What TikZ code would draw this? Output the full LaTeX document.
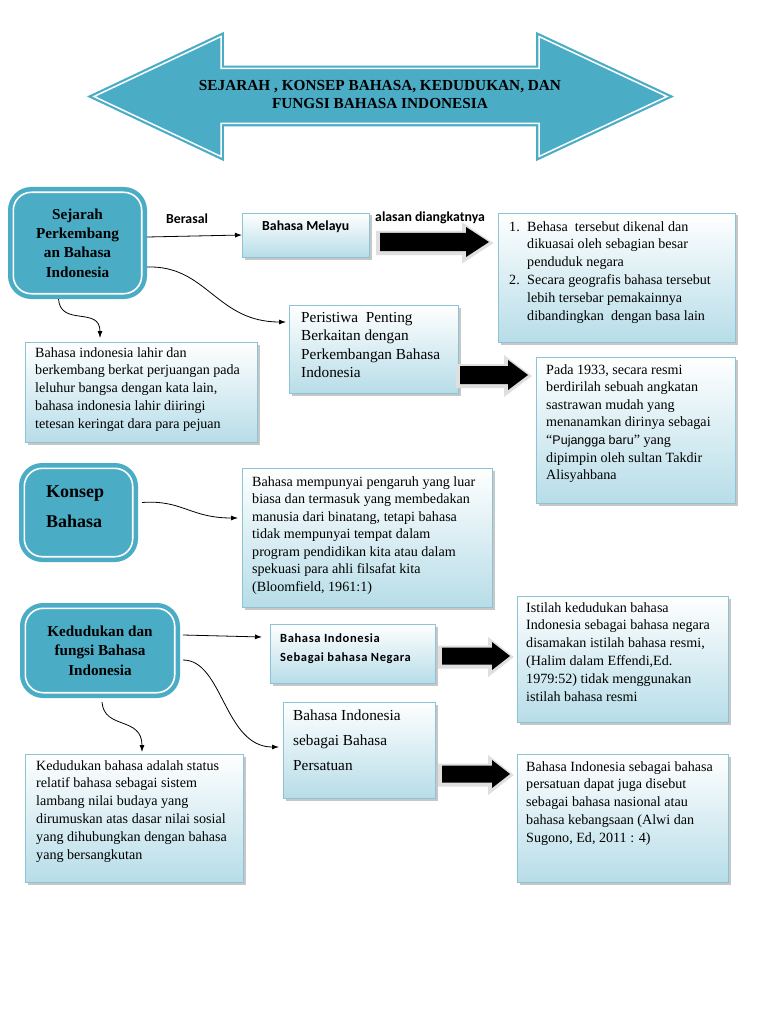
\documentclass[tikz,border=0pt]{standalone}
\usepackage{fontspec}
\setmainfont{Liberation Serif}
\newfontfamily\calfont{Carlito}
\newfontfamily\calsp{Carlito}[LetterSpace=5]
\newfontfamily\lsans{Liberation Sans}
\usetikzlibrary{calc,shadows,arrows.meta}
\definecolor{tealA}{RGB}{75,172,198}
\definecolor{lbBot}{RGB}{183,221,232}
\definecolor{lbEdge}{RGB}{140,196,214}
\tikzset{
  mainbox/.style={rounded corners=18pt, fill=tealA, draw=tealA, double=white,
    double distance=1.6pt, line width=4.5pt, outer sep=5.3pt, inner sep=0pt,
    align=center, font=\bfseries\fontsize{15.2}{19.4}\selectfont},
  lightbox/.style={draw=lbEdge, line width=0.8pt, top color=white, bottom color=lbBot,
    anchor=north west, inner sep=0pt, outer sep=0pt,
    drop shadow={shadow xshift=2.5pt, shadow yshift=-2.5pt, fill=gray!80, opacity=0.55}},
  bodytxt/.style={anchor=base west, align=left, inner sep=0pt,
    font=\fontsize{14.1}{17.8}\selectfont},
  bigtxt/.style={anchor=base west, align=left, inner sep=0pt,
    font=\fontsize{15.3}{18.5}\selectfont},
  caltxt/.style={anchor=base west, align=left, inner sep=0pt,
    font=\calfont\bfseries\fontsize{13.8}{16}\selectfont},
  conn/.style={-{Latex[length=7pt,width=5pt]}, line width=0.8pt},
}
\newcommand{\lbox}[5]{\node[lightbox, minimum width={#4-#2}, minimum height={#5-#3}] (#1) at (#2,#3) {};}
\newcommand{\blkarrow}[6]{%
  \draw[gray!25, fill=gray!25, line width=6pt, line join=miter, shift={(-1,1)}]
    (#1,{#4-#5}) -- (#2,{#4-#5}) -- (#2,{#4-#6}) -- (#3,#4) -- (#2,{#4+#6}) -- (#2,{#4+#5}) -- (#1,{#4+#5}) -- cycle;
  \fill[black]
    (#1,{#4-#5}) -- (#2,{#4-#5}) -- (#2,{#4-#6}) -- (#3,#4) -- (#2,{#4+#6}) -- (#2,{#4+#5}) -- (#1,{#4+#5}) -- cycle;}
\begin{document}
\begin{tikzpicture}[x=1pt,y=-1pt]
\useasboundingbox[fill=white] (0,0) rectangle (768,1024);

% title double arrow
\draw[fill=tealA, draw=tealA, double=white, double distance=1.5pt, line width=2.2pt, line join=miter]
  (94,96.5) -- (221,36.5) -- (221,68.5) -- (539,68.5) -- (539,36.5) -- (667,96.5)
  -- (539,156.5) -- (539,123.5) -- (221,123.5) -- (221,156.5) -- cycle;
\node[anchor=base, align=center, inner sep=0pt, font=\bfseries\fontsize{15.3}{18}\selectfont]
  (title) at (380,109) {SEJARAH , KONSEP BAHASA, KEDUDUKAN, DAN\\FUNGSI BAHASA INDONESIA};

% main boxes
\node[mainbox, minimum width=128.4, minimum height=101.4] (sej) at (77.5,243)
  {Sejarah\\Perkembang\\an Bahasa\\Indonesia};
\node[mainbox, minimum width=108.4, minimum height=88.4] (kon) at (78.5,512.5) {};
\node[anchor=base west, align=left, inner sep=0pt, font=\bfseries\fontsize{18}{30}\selectfont]
  (kontxt) at (46,527) {Konsep\\Bahasa};
\node[mainbox, minimum width=149.4, minimum height=84.4] (ked) at (100,650.5)
  {Kedudukan dan\\fungsi Bahasa\\Indonesia};

% light boxes
\lbox{melayu}{242}{213}{369}{257}
\lbox{list}{498}{213}{735}{342}
\lbox{peri}{289}{305}{458}{393}
\lbox{lahir}{25}{342}{257}{442}
\lbox{pada}{536}{357}{735}{503}
\lbox{kdesc}{242}{468}{492}{607}
\lbox{negara}{270}{624}{435}{683}
\lbox{pers}{283}{702}{435}{798}
\lbox{istilah}{517}{596}{728}{722}
\lbox{nasional}{517}{754}{728}{882}
\lbox{kedesc}{25}{754}{243}{882}

% texts (anchor base = baseline of the last line)
\node[caltxt] (berasal) at (166,224) {Berasal};
\node[caltxt] (alasan) at (375,222) {alasan diangkatnya};
\node[caltxt] (melayutxt) at (262,231) {Bahasa Melayu};
\node[bodytxt] (listtxt) at (509,320)
  {\makebox[18pt][l]{1.}Behasa\ \ tersebut dikenal dan\\
   \hspace*{18pt}dikuasai oleh sebagian besar\\
   \hspace*{18pt}penduduk negara\\
   \makebox[18pt][l]{2.}Secara geografis bahasa tersebut\\
   \hspace*{18pt}lebih tersebar pemakainnya\\
   \hspace*{18pt}dibandingkan\ \ dengan basa lain};
\node[bigtxt] (peritxt) at (301,377.5)
  {Peristiwa\ \ Penting\\Berkaitan dengan\\Perkembangan Bahasa\\Indonesia};
\node[bodytxt] (lahirtxt) at (35,428.2)
  {Bahasa indonesia lahir dan\\berkembang berkat perjuangan pada\\leluhur bangsa dengan kata lain,\\bahasa indonesia lahir diiringi\\tetesan keringat dara para pejuan};
\node[bodytxt, font=\fontsize{14.1}{17.6}\selectfont] (padatxt) at (546,479.6)
  {Pada 1933, secara resmi\\berdirilah sebuah angkatan\\sastrawan mudah yang\\menanamkan dirinya sebagai\\“{\lsans\fontsize{12.5}{17.6}\selectfont Pujangga baru}” yang\\dipimpin oleh sultan Takdir\\Alisyahbana};
\node[bodytxt, font=\fontsize{14.1}{17.5}\selectfont] (kdesctxt) at (252,591)
  {Bahasa mempunyai pengaruh yang luar\\biasa dan termasuk yang membedakan\\manusia dari binatang, tetapi bahasa\\tidak mempunyai tempat dalam\\program pendidikan kita atau dalam\\spekuasi para ahli filsafat kita\\(Bloomfield, 1961:1)};
\node[anchor=base west, align=left, inner sep=0pt, font=\calsp\bfseries\fontsize{12.5}{19}\selectfont]
  (negaratxt) at (280,661) {Bahasa Indonesia\\Sebagai bahasa Negara};
\node[bigtxt, font=\fontsize{15.3}{25}\selectfont] (perstxt) at (293,770)
  {Bahasa Indonesia\\sebagai Bahasa\\Persatuan};
\node[bodytxt, font=\fontsize{14.1}{17.9}\selectfont] (istilahtxt) at (526,701.5)
  {Istilah kedudukan bahasa\\Indonesia sebagai bahasa negara\\disamakan istilah bahasa resmi,\\(Halim dalam Effendi,Ed.\\1979:52) tidak menggunakan\\istilah bahasa resmi};
\node[bodytxt] (nasionaltxt) at (526,842.2)
  {Bahasa Indonesia sebagai bahasa\\persatuan dapat juga disebut\\sebagai bahasa nasional atau\\bahasa kebangsaan (Alwi dan\\Sugono, Ed, 2011 : 4)};
\node[bodytxt] (kedesctxt) at (36,859)
  {Kedudukan bahasa adalah status\\relatif bahasa sebagai sistem\\lambang nilai budaya yang\\dirumuskan atas dasar nilai sosial\\yang dihubungkan dengan bahasa\\yang bersangkutan};

% block arrows
\blkarrow{380}{466}{489}{242}{9}{15}
\blkarrow{460}{508}{528}{375}{9}{15}
\blkarrow{442}{492}{510}{656}{8.5}{14}
\blkarrow{442}{492}{510}{774}{8.5}{14}

% connectors
\draw[conn] ($(sej.east)+(0,-6)$) -- (melayu.west);
\draw[conn] ($(sej.east)+(0,24)$) .. controls +(60,-2) and +(-70,0) .. ($(peri.west)+(-3,-27)$);
\draw[conn] ($(sej.south)+(-19,0)$) .. controls +(2,28) and +(0,-32) .. ($(lahir.north)+(-41,-4)$);
\draw[conn] ($(kon.east)+(4,-10)$) .. controls +(40,-3) and +(-48,0) .. ($(kdesc.west)+(-4,-19.5)$);
\draw[conn] ($(ked.east)+(3,-15.5)$) -- ($(negara.west)+(-8,-16.5)$);
\draw[conn] ($(ked.east)+(3,9.5)$) .. controls +(40,0) and +(-55,0) .. ($(pers.west)+(-4,-3)$);
\draw[conn] ($(ked.south)+(2,4)$) .. controls +(2,28) and +(0,-36) .. ($(kedesc.north)+(8,-2)$);
\end{tikzpicture}
\end{document}
